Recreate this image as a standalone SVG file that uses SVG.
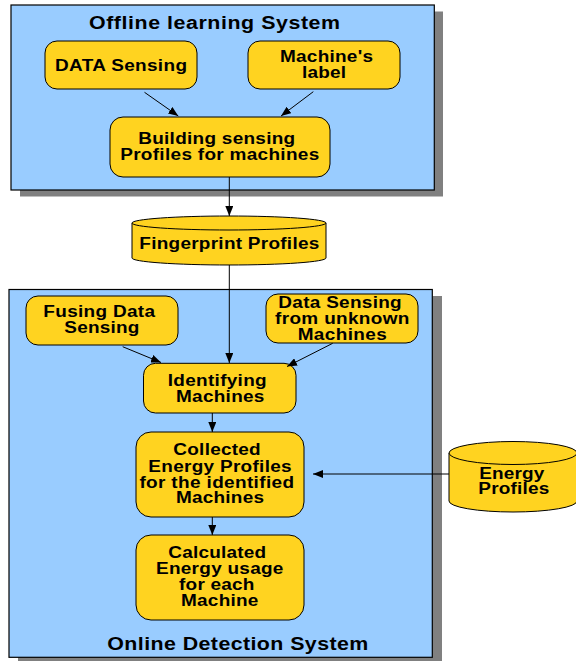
<svg xmlns="http://www.w3.org/2000/svg" width="576" height="661" viewBox="0 0 576 661">
  <style>
    .shadow { fill: #808080; }
    .panel { fill: #99ccff; stroke: #000; stroke-width: 1.2; }
    .box { fill: #ffd320; stroke: #000; stroke-width: 1; }
    .t { font-family: "Liberation Sans", Arial, Helvetica, sans-serif; font-weight: bold; font-size: 15.8px; text-anchor: middle; fill: #000; }
    .title { font-size: 17.8px; }
    .edge { fill: none; stroke: #000; stroke-width: 1; marker-end: url(#arrow); }
  </style>
  <defs>
    <marker id="arrow" markerUnits="userSpaceOnUse" markerWidth="10" markerHeight="8" refX="10" refY="4" orient="auto">
      <path d="M0,0 L10,4 L0,8 Z" fill="#000"/>
    </marker>
  </defs>

  <!-- labels use a wide bold sans: each line is stretched 1.2x horizontally about its centre -->

  <!-- offline learning panel -->
  <g id="offline-system">
    <rect class="shadow" x="20" y="11.5" width="423" height="185"/>
    <rect class="panel" x="11" y="5" width="423.3" height="185"/>
    <text class="t title" transform="translate(214.5,29) scale(1.2,1)" textLength="209.2">Offline learning System</text>
  </g>

  <!-- online detection panel -->
  <g id="online-system">
    <rect class="shadow" x="18" y="296" width="424" height="370"/>
    <rect class="panel" x="9" y="289.5" width="423.3" height="367.8"/>
    <text class="t title" transform="translate(237.8,650) scale(1.2,1)" textLength="217.5">Online Detection System</text>
  </g>

  <g id="data-sensing">
    <rect class="box" x="45" y="41" width="152" height="48" rx="12"/>
    <text class="t" transform="translate(121,70.5) scale(1.2,1)" textLength="110">DATA Sensing</text>
  </g>

  <g id="machine-label">
    <rect class="box" x="248" y="41" width="152" height="48" rx="12"/>
    <text class="t" transform="translate(326.5,62.3) scale(1.2,1)" textLength="77.5">Machine's</text>
    <text class="t" transform="translate(324,77.8) scale(1.2,1)" textLength="36.7">label</text>
  </g>

  <g id="building-profiles">
    <rect class="box" x="110" y="117" width="220" height="60" rx="13"/>
    <text class="t" transform="translate(216.7,144) scale(1.2,1)" textLength="130.8">Building sensing</text>
    <text class="t" transform="translate(219.7,159.5) scale(1.2,1)" textLength="165.8">Profiles for machines</text>
  </g>

  <g id="fingerprint-profiles">
    <path class="box" d="M132,223 L132,258 A97,7 0 0,0 326,258 L326,223 Z"/>
    <ellipse class="box" cx="229" cy="223" rx="97" ry="7"/>
    <text class="t" transform="translate(229.3,249) scale(1.2,1)" textLength="150">Fingerprint Profiles</text>
  </g>

  <g id="fusing-data">
    <rect class="box" x="26" y="296" width="152" height="49" rx="12"/>
    <text class="t" transform="translate(99.2,317.3) scale(1.2,1)" textLength="93.1">Fusing Data</text>
    <text class="t" transform="translate(101.8,332.8) scale(1.2,1)" textLength="62.5">Sensing</text>
  </g>

  <g id="unknown-sensing">
    <rect class="box" x="266" y="294" width="152" height="49" rx="12"/>
    <text class="t" transform="translate(340,308.3) scale(1.2,1)" textLength="102.75">Data Sensing</text>
    <text class="t" transform="translate(342.2,324) scale(1.2,1)" textLength="111.9">from unknown</text>
    <text class="t" transform="translate(342.2,339.5) scale(1.2,1)" textLength="74.2">Machines</text>
  </g>

  <g id="identifying">
    <rect class="box" x="143.5" y="363.3" width="152.5" height="49.7" rx="12"/>
    <text class="t" transform="translate(217.2,385.5) scale(1.2,1)" textLength="82.5">Identifying</text>
    <text class="t" transform="translate(220.2,401.7) scale(1.2,1)" textLength="73.6">Machines</text>
  </g>

  <g id="collected-profiles">
    <rect class="box" x="136" y="432" width="168" height="85" rx="15"/>
    <text class="t" transform="translate(217,455) scale(1.2,1)" textLength="72.75">Collected</text>
    <text class="t" transform="translate(220,471.7) scale(1.2,1)" textLength="119.4">Energy Profiles</text>
    <text class="t" transform="translate(216.7,487.7) scale(1.2,1)" textLength="128.9">for the identified</text>
    <text class="t" transform="translate(220,503.3) scale(1.2,1)" textLength="73.3">Machines</text>
  </g>

  <g id="calculated-usage">
    <rect class="box" x="136" y="535" width="168" height="85" rx="15"/>
    <text class="t" transform="translate(217.2,557.7) scale(1.2,1)" textLength="81.4">Calculated</text>
    <text class="t" transform="translate(219.7,573.7) scale(1.2,1)" textLength="106.1">Energy usage</text>
    <text class="t" transform="translate(216.7,590) scale(1.2,1)" textLength="62.75">for each</text>
    <text class="t" transform="translate(219.7,606) scale(1.2,1)" textLength="64.4">Machine</text>
  </g>

  <g id="energy-profiles">
    <path class="box" d="M449,453 L449,501 A64,11 0 0,0 577,501 L577,453 Z"/>
    <ellipse class="box" cx="513" cy="453" rx="64" ry="11.5"/>
    <text class="t" transform="translate(511.8,478.5) scale(1.2,1)" textLength="54.2">Energy</text>
    <text class="t" transform="translate(513.8,494) scale(1.2,1)" textLength="59.2">Profiles</text>
  </g>

  <g id="connectors">
    <line class="edge" x1="144.5" y1="92.3" x2="178.3" y2="116"/>
    <line class="edge" x1="313.3" y1="91.7" x2="281" y2="116"/>
    <line class="edge" x1="229.3" y1="177" x2="229.3" y2="216"/>
    <line class="edge" x1="229.3" y1="265" x2="229.3" y2="363"/>
    <line class="edge" x1="122.7" y1="346.7" x2="161" y2="362.5"/>
    <line class="edge" x1="332.7" y1="343.3" x2="287" y2="366.5"/>
    <line class="edge" x1="212.3" y1="413" x2="212.3" y2="432"/>
    <line class="edge" x1="212.3" y1="517" x2="212.3" y2="535"/>
    <line class="edge" x1="449" y1="474" x2="313" y2="474"/>
  </g>
</svg>
